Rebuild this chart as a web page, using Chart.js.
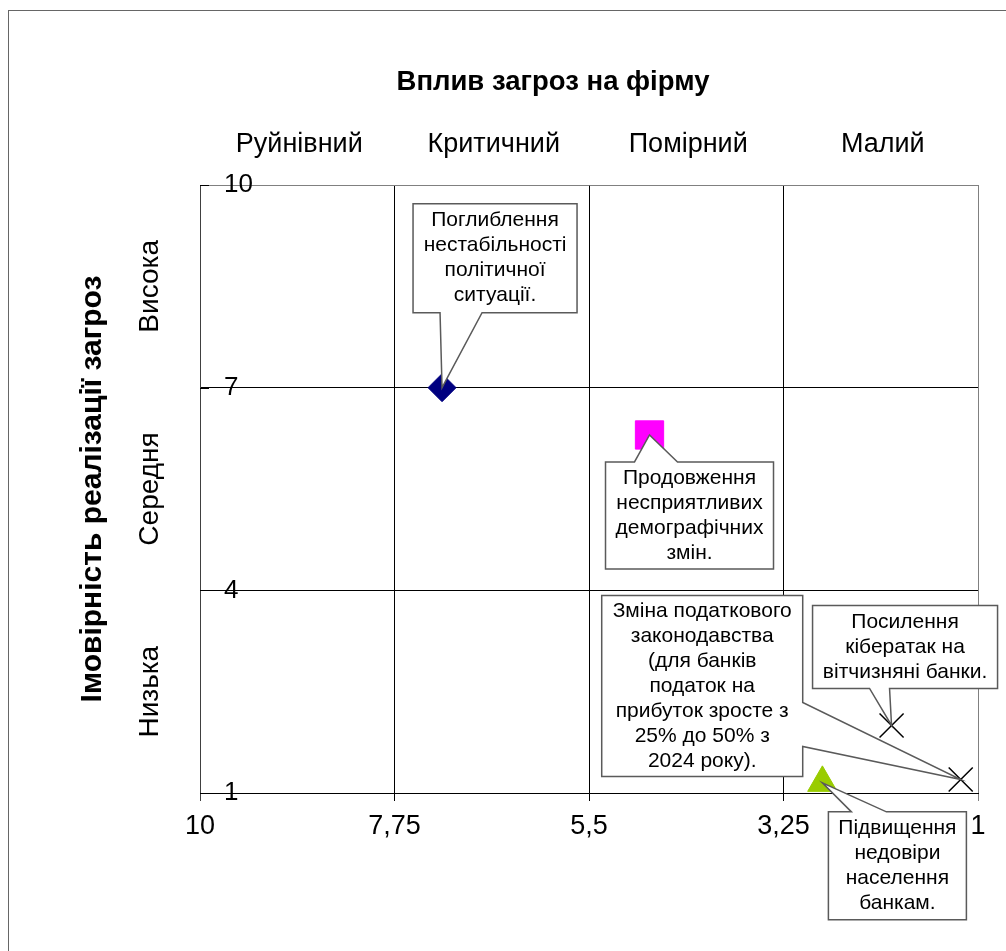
<!DOCTYPE html>
<html>
<head>
<meta charset="utf-8">
<script src="https://cdn.jsdelivr.net/npm/chart.js@4"></script>
<style>
  html, body { margin: 0; padding: 0; background: #fff; }
  #wrap { width: 1006px; height: 951px; }
</style>
</head>
<body>
<div id="wrap"><canvas id="chart" width="1006" height="951"></canvas></div>
<script>
// Axis ticks (x runs from 10 on the left down to 1 on the right)
const xTicks = [10, 7.75, 5.5, 3.25, 1];
const yTicks = [1, 4, 7, 10];

// Column and row captions
const impactLabels = ['Руйнівний', 'Критичний', 'Помірний', 'Малий'];
const probLabels = ['Висока', 'Середня', 'Низька'];

const chartTitle = 'Вплив загроз на фірму';
const yTitle = 'Імовірність реалізації загроз';

// Threats: impact (x) and probability (y)
const threatX = [7.2, 4.8, 1.2, 2.0, 2.8];
const threatY = [7, 6.3, 1.2, 2.0, 1.15];
const threatLabels = [
    ['Поглиблення', 'нестабільності', 'політичної', 'ситуації.'],
    ['Продовження', 'несприятливих', 'демографічних', 'змін.'],
    ['Зміна податкового', 'законодавства', '(для банків', 'податок на', 'прибуток зросте з', '25% до 50% з', '2024 року).'],
    ['Посилення', 'кібератак на', 'вітчизняні банки.'],
    ['Підвищення', 'недовіри', 'населення', 'банкам.']
];

// Marker look per threat
const markers = [
    { style: 'rectRot', radius: 14, color: '#000080' },
    { style: 'rect', radius: 20, color: '#FF00FF' },
    { style: 'crossRot', radius: 17, color: '#000000' },
    { style: 'crossRot', radius: 17, color: '#000000' },
    { style: 'triangle', radius: 17, color: '#99CC00' }
];

// Callout boxes, relative to the marker: box offset, size, side of the pointer, pointer base
const callouts = [
    { dx: -29, dy: -184, w: 164, h: 109, side: 'bottom', b0: 27, b1: 69 },
    { dx: -44, dy: 27, w: 168, h: 107, side: 'top', b0: 29, b1: 72 },
    { dx: -359, dy: -184, w: 201, h: 181, side: 'right', b0: 107, b1: 151 },
    { dx: -79, dy: -120, w: 185, h: 83, side: 'bottom', b0: 57, b1: 77 },
    { dx: 6, dy: 29, w: 138, h: 108, side: 'top', b0: 23, b1: 58 }
];

const FONT = '"Liberation Sans", Arial, sans-serif';

function drawCallout(ctx, px, py, c, lines) {
    const L = px + c.dx, T = py + c.dy, R = L + c.w, B = T + c.h;
    ctx.beginPath();
    ctx.moveTo(L, T);
    if (c.side === 'top') {
        ctx.lineTo(L + c.b0, T); ctx.lineTo(px, py); ctx.lineTo(L + c.b1, T);
    }
    ctx.lineTo(R, T);
    if (c.side === 'right') {
        ctx.lineTo(R, T + c.b0); ctx.lineTo(px, py); ctx.lineTo(R, T + c.b1);
    }
    ctx.lineTo(R, B);
    if (c.side === 'bottom') {
        ctx.lineTo(L + c.b1, B); ctx.lineTo(px, py); ctx.lineTo(L + c.b0, B);
    }
    ctx.lineTo(L, B);
    ctx.closePath();
    ctx.fillStyle = '#fff';
    ctx.fill();
    ctx.strokeStyle = '#5a5a5a';
    ctx.lineWidth = 1.5;
    ctx.stroke();

    ctx.fillStyle = '#000';
    ctx.font = '21px ' + FONT;
    ctx.textAlign = 'center';
    ctx.textBaseline = 'middle';
    const lh = 25;
    const cx = (L + R) / 2, cy = (T + B) / 2;
    lines.forEach((t, i) => {
        ctx.fillText(t, cx, cy + (i - (lines.length - 1) / 2) * lh);
    });
}

const decorPlugin = {
    id: 'decor',
    beforeDraw(chart) {
        const ctx = chart.ctx;
        ctx.save();
        ctx.fillStyle = '#fff';
        ctx.fillRect(0, 0, chart.width, chart.height);
        ctx.strokeStyle = '#666';
        ctx.lineWidth = 1;
        ctx.strokeRect(8.5, 10.5, chart.width + 20, chart.height + 20);
        ctx.restore();
    },
    beforeDatasetsDraw(chart) {
        // short inside tick marks on the y axis
        const ctx = chart.ctx, area = chart.chartArea, ys = chart.scales.y;
        ctx.save();
        ctx.strokeStyle = '#000';
        ctx.lineWidth = 1;
        yTicks.forEach(v => {
            const y = Math.round(ys.getPixelForValue(v)) + 0.5;
            ctx.beginPath();
            ctx.moveTo(area.left, y);
            ctx.lineTo(area.left + 9, y);
            ctx.stroke();
        });
        ctx.restore();
    },
    afterDatasetsDraw(chart) {
        const ctx = chart.ctx;
        ctx.save();
        chart.data.datasets.forEach((ds, i) => {
            const pt = chart.getDatasetMeta(i).data[0];
            drawCallout(ctx, pt.x, pt.y, callouts[i], threatLabels[i]);
        });
        ctx.restore();
    },
    afterDraw(chart) {
        const ctx = chart.ctx, xs = chart.scales.x, ys = chart.scales.y;
        const area = chart.chartArea;
        ctx.save();
        ctx.fillStyle = '#000';
        ctx.textAlign = 'center';
        ctx.textBaseline = 'middle';

        ctx.font = 'bold 27.5px ' + FONT;
        ctx.fillText(chartTitle, 553, 82);

        ctx.font = '27px ' + FONT;
        impactLabels.forEach((t, i) => {
            const x = (xs.getPixelForValue(xTicks[i]) + xs.getPixelForValue(xTicks[i + 1])) / 2;
            ctx.fillText(t, x + 2, 145);
        });

        ctx.font = '28px ' + FONT;
        const rows = yTicks.slice().reverse();
        probLabels.forEach((t, i) => {
            const y = (ys.getPixelForValue(rows[i]) + ys.getPixelForValue(rows[i + 1])) / 2;
            ctx.save();
            ctx.translate(150, y);
            ctx.rotate(-Math.PI / 2);
            ctx.fillText(t, 0, 0);
            ctx.restore();
        });

        ctx.font = 'bold 30px ' + FONT;
        ctx.save();
        ctx.translate(93, (area.top + area.bottom) / 2);
        ctx.rotate(-Math.PI / 2);
        ctx.fillText(yTitle, 0, 0);
        ctx.restore();

        ctx.restore();
    }
};

const datasets = threatX.map((x, i) => ({
    label: threatLabels[i].join(' '),
    data: [{ x: x, y: threatY[i] }],
    pointStyle: markers[i].style,
    pointRadius: markers[i].radius,
    backgroundColor: markers[i].color,
    borderColor: markers[i].color,
    borderWidth: markers[i].style === 'crossRot' ? 1.5 : 1,
    showLine: false
}));

function edgeColor(ctx, edgeA, colorA, edgeB, colorB) {
    const v = ctx.tick ? ctx.tick.value : null;
    if (v === edgeA) return colorA;
    if (v === edgeB) return colorB;
    return '#000';
}

new Chart(document.getElementById('chart'), {
    type: 'scatter',
    data: { datasets: datasets },
    options: {
        responsive: false,
        animation: false,
        layout: { padding: { left: 190, top: 185, right: 28, bottom: 98 } },
        plugins: {
            legend: { display: false },
            tooltip: { enabled: false }
        },
        scales: {
            x: {
                type: 'linear',
                min: 1,
                max: 10,
                reverse: true,
                afterBuildTicks: s => { s.ticks = xTicks.map(v => ({ value: v })); },
                afterFit: s => { s.height = 60; },
                grid: {
                    color: c => edgeColor(c, 10, '#404040', 1, '#808080'),
                    lineWidth: 1,
                    tickLength: 8
                },
                border: { color: '#000', width: 1 },
                ticks: {
                    color: '#000',
                    font: { family: FONT, size: 27 },
                    padding: 9,
                    maxRotation: 0,
                    autoSkip: false,
                    callback: v => String(v).replace('.', ',')
                }
            },
            y: {
                type: 'linear',
                min: 1,
                max: 10,
                afterBuildTicks: s => { s.ticks = yTicks.map(v => ({ value: v })); },
                afterFit: s => { s.width = 10; },
                grid: {
                    color: c => edgeColor(c, 10, '#808080', 1, '#000'),
                    lineWidth: 1,
                    drawTicks: false
                },
                border: { color: '#404040', width: 1 },
                ticks: {
                    mirror: true,
                    padding: 24,
                    color: '#000',
                    font: { family: FONT, size: 26 },
                    autoSkip: false
                }
            }
        }
    },
    plugins: [decorPlugin]
});
</script>
</body>
</html>
